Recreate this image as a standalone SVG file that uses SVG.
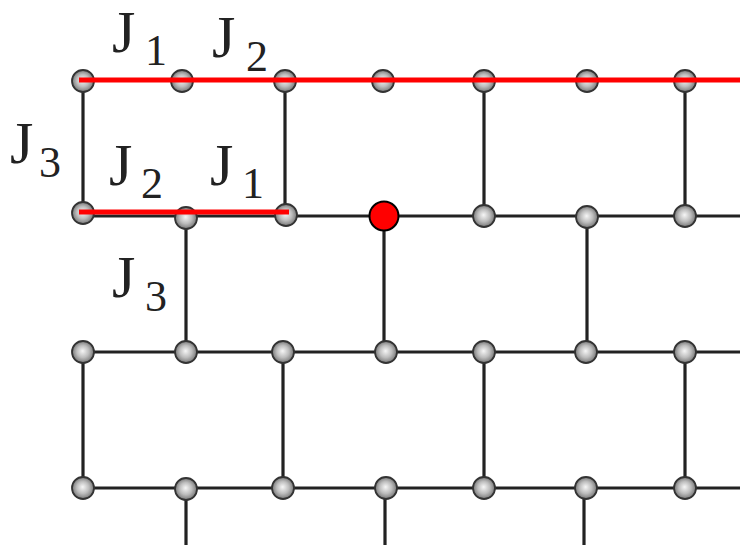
<svg xmlns="http://www.w3.org/2000/svg" width="740" height="545" viewBox="0 0 740 545">
<defs>
<radialGradient id="ball" cx="50%" cy="50%" r="50%" fx="48%" fy="45%">
<stop offset="0" stop-color="#f6f6f6"/>
<stop offset="0.55" stop-color="#bdbdbd"/>
<stop offset="1" stop-color="#777"/>
</radialGradient>
<style>
.ln{stroke:#222;stroke-width:3.2;fill:none}
.rd{stroke:#ff0000;stroke-width:5;fill:none}
.n{fill:url(#ball);stroke:#333;stroke-width:1.8}
.J{font-family:"Liberation Serif","Times New Roman",serif;font-size:60px;fill:#222}
.s{font-family:"Liberation Serif","Times New Roman",serif;font-size:44px;fill:#222}
</style>
</defs>
<rect width="740" height="545" fill="#fff"/>
<g id="connectors">
<line class="ln" x1="83" y1="216" x2="740" y2="216"/>
<line class="ln" x1="83" y1="352" x2="740" y2="352"/>
<line class="ln" x1="83" y1="488" x2="740" y2="488"/>
<line class="ln" x1="83" y1="81" x2="83" y2="213"/>
<line class="ln" x1="285" y1="81" x2="285" y2="215"/>
<line class="ln" x1="484" y1="81" x2="484" y2="216"/>
<line class="ln" x1="685" y1="81" x2="685" y2="216"/>
<line class="ln" x1="186" y1="217" x2="186" y2="352"/>
<line class="ln" x1="384" y1="216" x2="384" y2="352"/>
<line class="ln" x1="587" y1="217" x2="587" y2="352"/>
<line class="ln" x1="83" y1="352" x2="83" y2="488"/>
<line class="ln" x1="283" y1="352" x2="283" y2="488"/>
<line class="ln" x1="484" y1="352" x2="484" y2="488"/>
<line class="ln" x1="685" y1="352" x2="685" y2="488"/>
<line class="ln" x1="186" y1="488" x2="186" y2="545"/>
<line class="ln" x1="385" y1="488" x2="385" y2="545"/>
<line class="ln" x1="584" y1="488" x2="584" y2="545"/>
</g>
<g id="nodes">
<g id="n11"><circle class="n" cx="83" cy="81" r="11"/></g>
<g id="n12"><circle class="n" cx="182" cy="81" r="11"/></g>
<g id="n13"><circle class="n" cx="285" cy="81" r="11"/></g>
<g id="n14"><circle class="n" cx="383" cy="81" r="11"/></g>
<g id="n15"><circle class="n" cx="484" cy="81" r="11"/></g>
<g id="n16"><circle class="n" cx="587" cy="81" r="11"/></g>
<g id="n17"><circle class="n" cx="685" cy="81" r="11"/></g>
<g id="n21"><circle class="n" cx="83" cy="213" r="11"/></g>
<g id="n22"><circle class="n" cx="186" cy="218" r="11"/></g>
<g id="n23"><circle class="n" cx="286" cy="215" r="11"/></g>
<g id="n25"><circle class="n" cx="484" cy="216" r="11"/></g>
<g id="n26"><circle class="n" cx="587" cy="217" r="11"/></g>
<g id="n27"><circle class="n" cx="685" cy="216" r="11"/></g>
<g id="n31"><circle class="n" cx="83" cy="352" r="11"/></g>
<g id="n32"><circle class="n" cx="186" cy="352" r="11"/></g>
<g id="n33"><circle class="n" cx="283" cy="352" r="11"/></g>
<g id="n34"><circle class="n" cx="386" cy="352" r="11"/></g>
<g id="n35"><circle class="n" cx="484" cy="352" r="11"/></g>
<g id="n36"><circle class="n" cx="586" cy="352" r="11"/></g>
<g id="n37"><circle class="n" cx="685" cy="352" r="11"/></g>
<g id="n41"><circle class="n" cx="83" cy="488" r="11"/></g>
<g id="n42"><circle class="n" cx="186" cy="489" r="11"/></g>
<g id="n43"><circle class="n" cx="283" cy="488" r="11"/></g>
<g id="n44"><circle class="n" cx="386" cy="488" r="11"/></g>
<g id="n45"><circle class="n" cx="484" cy="488" r="11"/></g>
<g id="n46"><circle class="n" cx="586" cy="488" r="11"/></g>
<g id="n47"><circle class="n" cx="685" cy="488" r="11"/></g>
</g>
<g id="red-bonds">
<line class="rd" x1="79" y1="80" x2="740" y2="80"/>
<line class="rd" x1="79" y1="212" x2="289" y2="212"/>
</g>
<g id="n24"><circle cx="384" cy="216" r="14.5" fill="#ff0000" stroke="#000" stroke-width="2"/></g>
<g id="labels">
<text class="J" x="112" y="52">J</text><text class="s" x="145" y="65">1</text>
<text class="J" x="212" y="57">J</text><text class="s" x="246" y="71">2</text>
<text class="J" x="10" y="163">J</text><text class="s" x="39" y="177">3</text>
<text class="J" x="109" y="185">J</text><text class="s" x="141" y="198">2</text>
<text class="J" x="210" y="185">J</text><text class="s" x="242" y="198">1</text>
<text class="J" x="112" y="297">J</text><text class="s" x="145" y="311">3</text>
</g>
</svg>
